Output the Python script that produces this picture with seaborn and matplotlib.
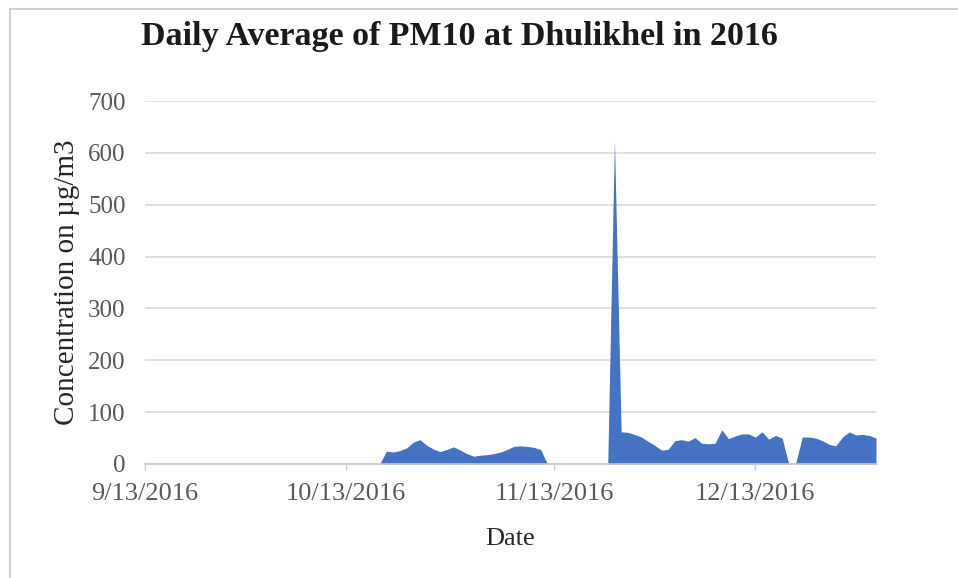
import numpy as np
import pandas as pd
import seaborn as sns
import matplotlib.pyplot as plt
from matplotlib.lines import Line2D

# daily PM10 values, one per day starting 10/18/2016 (earlier days are empty)
first_day = '2016-10-18'
pm10_values = [
    0, 25, 23, 26, 31, 42, 47, 36, 29, 24,
    28, 33, 27, 20, 15, 17, 18, 20, 23, 28,
    34, 35, 34, 32, 28,
    0, 0, 0, 0, 0, 0, 0, 0, 0, 0,
    625, 62, 61, 57, 52, 44, 36, 27, 28, 45,
    47, 44, 51, 40, 39, 40, 66, 49, 54, 58,
    58, 52, 62, 48, 55, 50, 0, 0, 52, 52,
    50, 45, 38, 35, 52, 62, 56, 57, 55, 50,
]
axis_start = '2016-09-13'
axis_end = '2016-12-31'
tick_dates = ['2016-09-13', '2016-10-13', '2016-11-13', '2016-12-13']
tick_labels = ['9/13/2016', '10/13/2016', '11/13/2016', '12/13/2016']
y_ticks = [0, 100, 200, 300, 400, 500, 600, 700]

TITLE = 'Daily Average of PM10 at Dhulikhel in 2016'
AREA_COLOR = '#4472C4'
GRID_COLOR = '#D9D9D9'
TEXT_GRAY = '#595959'

df = pd.DataFrame({
    'date': pd.date_range(first_day, periods=len(pm10_values), freq='D'),
    'pm10': pm10_values,
})

sns.set_theme(style='white')
plt.rcParams['font.family'] = ['Liberation Serif', 'DejaVu Serif']

fig = plt.figure(figsize=(9.58, 5.78), dpi=100)
ax = fig.add_axes([145 / 958, 1 - 464 / 578, (876 - 145) / 958, (464 - 101) / 578])

# seaborn sets up the date axis; the area itself is the fill below the curve
sns.lineplot(data=df, x='date', y='pm10', ax=ax, color=AREA_COLOR, linewidth=0)
ax.fill_between(df['date'], 0, df['pm10'], color=AREA_COLOR, linewidth=0)

ax.set_xlim(pd.Timestamp(axis_start), pd.Timestamp(axis_end))
ax.set_ylim(0, 700)
ax.set_yticks(y_ticks)
ax.set_xticks([pd.Timestamp(d) for d in tick_dates])
ax.set_xticklabels(tick_labels)

ax.grid(axis='y', color=GRID_COLOR, linewidth=1.2)
ax.set_axisbelow(True)
for side in ['top', 'right', 'left']:
    ax.spines[side].set_visible(False)
ax.spines['bottom'].set_color('#C8C8C8')
ax.spines['bottom'].set_linewidth(1.2)

ax.tick_params(axis='y', length=0, pad=14, labelsize=18, labelcolor=TEXT_GRAY)
ax.tick_params(axis='x', length=4, width=1, color='#C8C8C8', pad=10,
               labelsize=19, labelcolor=TEXT_GRAY, bottom=True)

ax.set_xlabel('Date', fontsize=19, color='#262626', labelpad=16)
ax.set_ylabel('Concentration on µg/m3', fontsize=21, color='#262626', labelpad=6)

fig.text(459 / 958, 1 - 37 / 578, TITLE, ha='center', va='center',
         fontsize=24.5, fontweight='bold', color='#1a1a1a')

# light chart border (left and top edges visible in the reference)
fig.add_artist(Line2D([10 / 958, 10 / 958], [0, 1 - 9 / 578], transform=fig.transFigure,
                      color='#D0D0D0', linewidth=1.5))
fig.add_artist(Line2D([10 / 958, 1], [1 - 9 / 578, 1 - 9 / 578], transform=fig.transFigure,
                      color='#D0D0D0', linewidth=1.5))

plt.savefig('out.png', dpi=100)
